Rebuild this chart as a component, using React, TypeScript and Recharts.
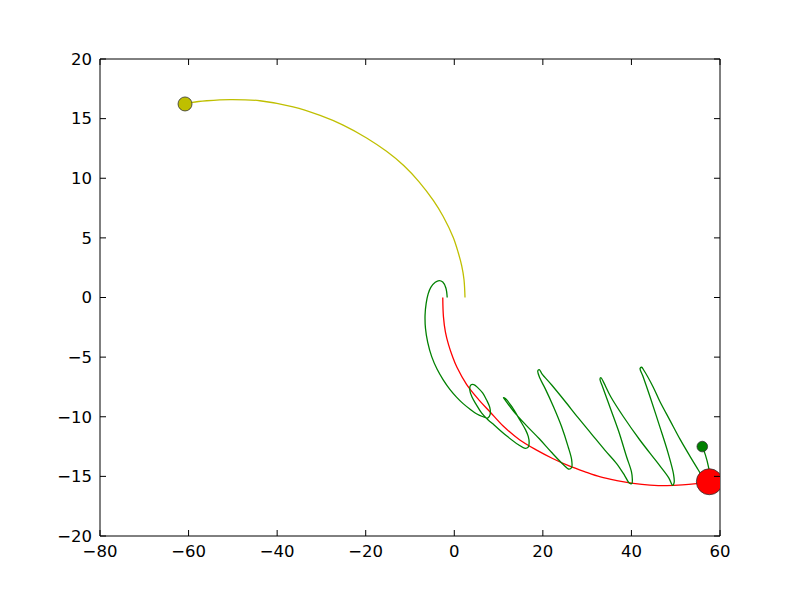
import {
  LineChart,
  Line,
  XAxis,
  YAxis,
  ReferenceDot,
  ReferenceLine,
} from "recharts";

// paths, each ending where its marker sits
const yellowPath = [
  { x: 2.42, y: 0.0 }, { x: 2.19, y: 1.51 }, { x: 1.67, y: 2.68 }, { x: 0.9, y: 3.75 },
  { x: -0.23, y: 5.03 }, { x: -2.5, y: 6.79 }, { x: -4.7, y: 8.12 }, { x: -7.95, y: 9.7 },
  { x: -11.36, y: 11.05 }, { x: -15.3, y: 12.26 }, { x: -19.8, y: 13.38 }, { x: -25.1, y: 14.46 },
  { x: -30.3, y: 15.27 }, { x: -36.4, y: 15.99 }, { x: -43.9, y: 16.5 }, { x: -50.6, y: 16.6 },
  { x: -55.9, y: 16.5 }, { x: -59.1, y: 16.37 }, { x: -60.8, y: 16.23 },
];

const redPath = [
  { x: -2.6, y: 0.0 }, { x: -2.45, y: -1.6 }, { x: -2.0, y: -2.9 }, { x: -1.3, y: -3.95 },
  { x: -0.4, y: -4.95 }, { x: 0.6, y: -5.85 }, { x: 2.8, y: -7.3 }, { x: 5.6, y: -8.6 },
  { x: 8.1, y: -9.6 }, { x: 11.1, y: -10.8 }, { x: 14.8, y: -11.95 }, { x: 18.6, y: -12.8 },
  { x: 22.2, y: -13.5 }, { x: 25.8, y: -14.1 }, { x: 29.4, y: -14.6 }, { x: 33.0, y: -15.05 },
  { x: 36.7, y: -15.35 }, { x: 40.4, y: -15.58 }, { x: 44.2, y: -15.73 }, { x: 48.0, y: -15.78 },
  { x: 51.5, y: -15.72 }, { x: 54.7, y: -15.6 }, { x: 57.6, y: -15.45 },
];

const greenPath = [
  { x: -1.6, y: 0.0 }, { x: -1.9, y: 0.8 }, { x: -2.6, y: 1.3 }, { x: -3.4, y: 1.42 },
  { x: -4.3, y: 1.28 }, { x: -5.3, y: 0.85 }, { x: -5.9, y: 0.3 }, { x: -6.35, y: -0.5 },
  { x: -6.6, y: -1.5 }, { x: -6.5, y: -2.6 }, { x: -6.0, y: -3.77 }, { x: -5.1, y: -4.96 },
  { x: -3.9, y: -6.0 }, { x: -2.5, y: -6.9 }, { x: -1.0, y: -7.7 }, { x: 0.5, y: -8.35 },
  { x: 2.0, y: -8.9 }, { x: 3.5, y: -9.35 }, { x: 5.0, y: -9.75 }, { x: 6.5, y: -10.0 },
  { x: 7.6, y: -10.1 }, { x: 8.1, y: -9.8 }, { x: 8.0, y: -9.2 }, { x: 7.3, y: -8.6 },
  { x: 6.4, y: -8.0 }, { x: 5.4, y: -7.6 }, { x: 4.4, y: -7.3 }, { x: 3.7, y: -7.35 },
  { x: 3.5, y: -7.76 }, { x: 4.0, y: -8.35 }, { x: 5.0, y: -9.0 }, { x: 6.2, y: -9.7 },
  { x: 7.6, y: -10.25 }, { x: 9.0, y: -10.7 }, { x: 11.8, y: -11.6 }, { x: 14.5, y: -12.35 },
  { x: 16.0, y: -12.65 }, { x: 16.7, y: -12.55 }, { x: 16.9, y: -12.2 }, { x: 16.7, y: -11.65 },
  { x: 16.1, y: -11.1 }, { x: 14.8, y: -10.27 }, { x: 13.0, y: -9.16 }, { x: 11.6, y: -8.5 },
  { x: 11.1, y: -8.4 }, { x: 11.5, y: -8.6 }, { x: 13.3, y: -9.5 }, { x: 16.2, y: -10.7 },
  { x: 19.2, y: -11.85 }, { x: 22.0, y: -13.0 }, { x: 24.6, y: -14.0 }, { x: 25.9, y: -14.4 },
  { x: 26.5, y: -14.25 }, { x: 26.5, y: -13.6 }, { x: 25.7, y: -12.5 }, { x: 24.2, y: -10.8 },
  { x: 22.4, y: -9.16 }, { x: 20.5, y: -7.62 }, { x: 19.35, y: -6.78 }, { x: 18.85, y: -6.15 },
  { x: 19.2, y: -6.05 }, { x: 19.8, y: -6.4 }, { x: 22.0, y: -7.34 }, { x: 25.0, y: -8.7 },
  { x: 28.0, y: -10.1 }, { x: 31.0, y: -11.45 }, { x: 34.0, y: -12.8 }, { x: 36.7, y: -13.95 },
  { x: 38.5, y: -14.95 }, { x: 39.5, y: -15.55 }, { x: 40.1, y: -15.6 }, { x: 40.2, y: -15.2 },
  { x: 40.0, y: -14.6 }, { x: 38.9, y: -13.35 }, { x: 37.1, y: -11.2 }, { x: 35.2, y: -9.25 },
  { x: 33.5, y: -7.5 }, { x: 32.9, y: -6.85 }, { x: 33.1, y: -6.72 }, { x: 33.7, y: -7.1 },
  { x: 35.3, y: -8.3 }, { x: 38.2, y: -10.0 }, { x: 41.9, y: -11.95 }, { x: 45.7, y: -13.77 },
  { x: 48.4, y: -15.1 }, { x: 49.3, y: -15.75 }, { x: 49.65, y: -15.5 }, { x: 49.5, y: -14.8 },
  { x: 48.3, y: -13.07 }, { x: 46.4, y: -10.83 }, { x: 44.2, y: -8.32 }, { x: 42.6, y: -6.6 },
  { x: 41.95, y: -5.95 }, { x: 42.3, y: -5.85 }, { x: 42.8, y: -6.1 }, { x: 44.9, y: -7.5 },
  { x: 46.4, y: -8.7 }, { x: 48.7, y: -10.3 }, { x: 51.0, y: -11.9 }, { x: 53.2, y: -13.3 },
  { x: 55.0, y: -14.4 }, { x: 56.5, y: -15.3 }, { x: 57.4, y: -15.6 }, { x: 57.8, y: -15.2 },
  { x: 57.4, y: -14.2 }, { x: 56.7, y: -13.2 }, { x: 56.0, y: -12.5 },
];

const xTicks = [-80, -60, -40, -20, 0, 20, 40, 60];
const yTicks = [-20, -15, -10, -5, 0, 5, 10, 15, 20];

const yellowEnd = yellowPath[yellowPath.length - 1];
const redEnd = redPath[redPath.length - 1];
const greenEnd = greenPath[greenPath.length - 1];

// plot box in pixels (matplotlib-style frame)
const PLOT = { left: 100, right: 720, top: 59, bottom: 536 };
const TICK = 6;
const FONT = "DejaVu Sans";
const FONT_SIZE = 16.5;

const fmt = (v: number) => (v < 0 ? "\u2212" + Math.abs(v) : String(v));

// centripetal catmull-rom, so the orbits pass through the read points smoothly
function catmullRom(context: any) {
  let pts: number[][] = [];
  return {
    areaStart() {},
    areaEnd() {},
    lineStart() {
      pts = [];
    },
    point(x: number, y: number) {
      pts.push([+x, +y]);
    },
    lineEnd() {
      const n = pts.length;
      if (!n) return;
      context.moveTo(pts[0][0], pts[0][1]);
      const d = (a: number[], b: number[]) => Math.sqrt(Math.hypot(b[0] - a[0], b[1] - a[1]));
      for (let i = 0; i < n - 1; i++) {
        const p0 = pts[Math.max(i - 1, 0)];
        const p1 = pts[i];
        const p2 = pts[i + 1];
        const p3 = pts[Math.min(i + 2, n - 1)];
        const l01 = d(p0, p1), l12 = d(p1, p2), l23 = d(p2, p3);
        let c1 = p1.slice();
        let c2 = p2.slice();
        if (l01 > 1e-6) {
          const a = 2 * l01 * l01 + 3 * l01 * l12 + l12 * l12;
          const m = 3 * l01 * (l01 + l12);
          c1 = [0, 1].map((k) => (p1[k] * a - p0[k] * l12 * l12 + p2[k] * l01 * l01) / m);
        }
        if (l23 > 1e-6) {
          const b = 2 * l23 * l23 + 3 * l23 * l12 + l12 * l12;
          const m = 3 * l23 * (l23 + l12);
          c2 = [0, 1].map((k) => (p2[k] * b + p1[k] * l23 * l23 - p3[k] * l12 * l12) / m);
        }
        context.bezierCurveTo(c1[0], c1[1], c2[0], c2[1], p2[0], p2[1]);
      }
    },
  };
}

// bottom tick: inward mark on bottom and top spine, label below
const XTick = (props: any) => {
  const { x, payload } = props;
  return (
    <g>
      <line x1={x} x2={x} y1={PLOT.bottom} y2={PLOT.bottom - TICK} stroke="#000" />
      <line x1={x} x2={x} y1={PLOT.top} y2={PLOT.top + TICK} stroke="#000" />
      <text x={x} y={PLOT.bottom + 20.5} textAnchor="middle" fontFamily={FONT} fontSize={FONT_SIZE} fill="#000">
        {fmt(payload.value)}
      </text>
    </g>
  );
};

// left tick: inward mark on left and right spine, label to the left
const YTick = (props: any) => {
  const { y, payload } = props;
  return (
    <g>
      <line x1={PLOT.left} x2={PLOT.left + TICK} y1={y} y2={y} stroke="#000" />
      <line x1={PLOT.right} x2={PLOT.right - TICK} y1={y} y2={y} stroke="#000" />
      <text x={PLOT.left - 8} y={y + 5.8} textAnchor="end" fontFamily={FONT} fontSize={FONT_SIZE} fill="#000">
        {fmt(payload.value)}
      </text>
    </g>
  );
};

export default function App() {
  return (
    <div style={{ position: "absolute", left: 0, top: 0, background: "#fff" }}>
      <LineChart
        width={800}
        height={596}
        margin={{ top: PLOT.top, right: 800 - PLOT.right, bottom: 30, left: 40 }}
      >
        <XAxis
          type="number"
          dataKey="x"
          domain={[-80, 60]}
          ticks={xTicks}
          allowDataOverflow
          height={30}
          tickLine={false}
          tick={<XTick />}
          axisLine={{ stroke: "#000" }}
        />
        <YAxis
          type="number"
          domain={[-20, 20]}
          ticks={yTicks}
          allowDataOverflow
          width={60}
          tickLine={false}
          tick={<YTick />}
          axisLine={{ stroke: "#000" }}
        />
        <ReferenceLine y={20} stroke="#000" />
        <ReferenceLine x={60} stroke="#000" />
        <Line data={yellowPath} dataKey="y" type={catmullRom as any} stroke="#bfbf00" strokeWidth={1.3} dot={false} isAnimationActive={false} />
        <Line data={redPath} dataKey="y" type={catmullRom as any} stroke="#ff0000" strokeWidth={1.3} dot={false} isAnimationActive={false} />
        <Line data={greenPath} dataKey="y" type={catmullRom as any} stroke="#008000" strokeWidth={1.3} dot={false} isAnimationActive={false} />
        <ReferenceDot x={yellowEnd.x} y={yellowEnd.y} r={7} fill="#bfbf00" stroke="#333" strokeWidth={0.8} ifOverflow="hidden" />
        <ReferenceDot x={greenEnd.x} y={greenEnd.y} r={5.3} fill="#008000" stroke="#333" strokeWidth={0.8} ifOverflow="hidden" />
        <ReferenceDot x={redEnd.x} y={redEnd.y} r={13} fill="#ff0000" stroke="#333" strokeWidth={0.8} ifOverflow="hidden" />
      </LineChart>
    </div>
  );
}
